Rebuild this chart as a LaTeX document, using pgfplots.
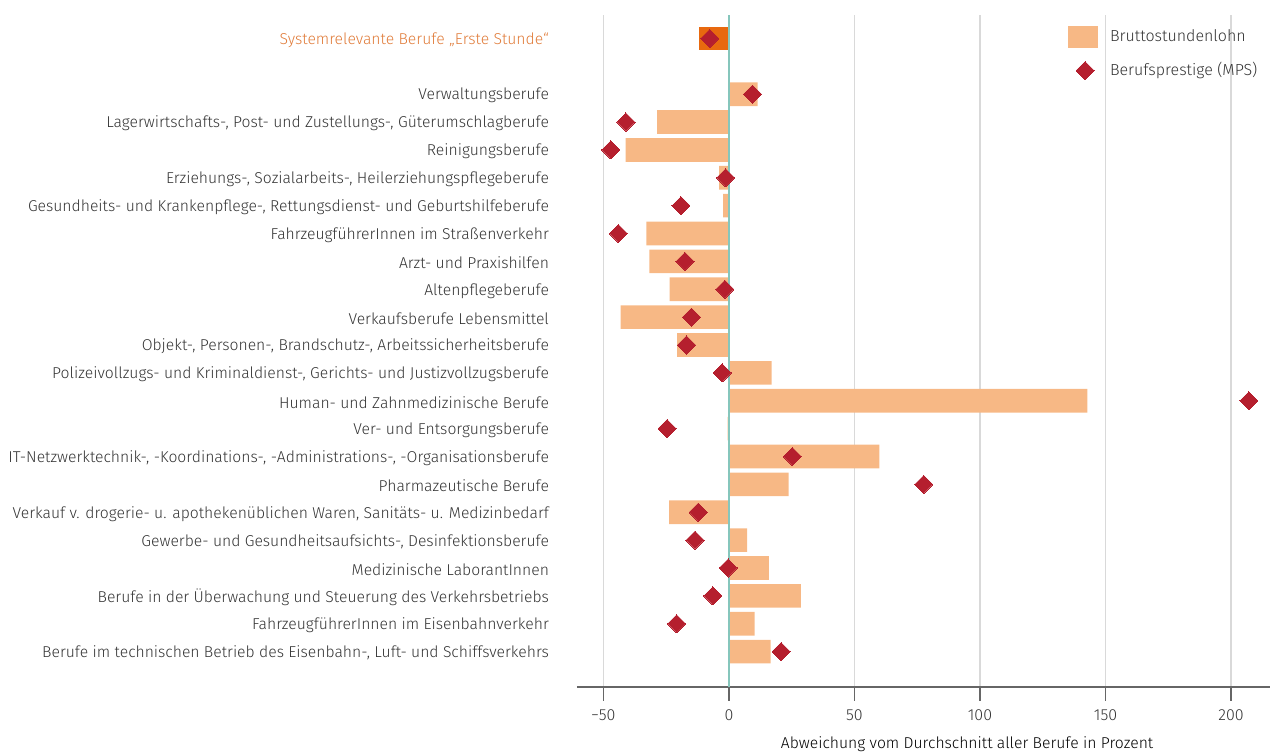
\documentclass[border=0pt]{standalone}
\usepackage{fontspec}
\setmainfont{Fira Sans Light}
\usepackage{pgfplots}
\pgfplotsset{compat=1.18}
\definecolor{barlight}{HTML}{F7B885}
\definecolor{bardark}{HTML}{E8690F}
\definecolor{dia}{HTML}{B51F2E}
\definecolor{zeroline}{HTML}{86C6BC}
\definecolor{gridc}{HTML}{D9D9D9}
\definecolor{txt}{HTML}{333333}
\definecolor{lblorange}{HTML}{E07B39}
\begin{document}
\begin{tikzpicture}
\useasboundingbox (-288.5pt,-32.65pt) rectangle (346.5pt,343.35pt);
\begin{axis}[
  at={(0,0)}, anchor=south west,
  scale only axis, width=346.5pt, height=335.85pt,
  xmin=-60.5, xmax=215.5,
  ymin=-2.84, ymax=21.26, y dir=reverse,
  axis x line*=bottom, axis y line*=left,
  y axis line style={draw=none},
  x axis line style={draw=black!60, line width=1pt},
  xtick={-50,0,50,100,150,200},
  xticklabels={−50,0,50,100,150,200},
  xtick style={draw=black!60, line width=0.6pt},
  tick align=outside, major tick length=7pt,
  xmajorgrids, grid style={gridc, line width=0.7pt},
  ytick={-2,0,1,2,3,4,5,6,7,8,9,10,11,12,13,14,15,16,17,18,19,20},
  ytick style={draw=none},
  yticklabels={
    \textcolor{lblorange}{Systemrelevante Berufe „Erste Stunde“},
    Verwaltungsberufe,
    {Lagerwirtschafts-, Post- und Zustellungs-, Güterumschlagberufe},
    Reinigungsberufe,
    {Erziehungs-, Sozialarbeits-, Heilerziehungspflegeberufe},
    {Gesundheits- und Krankenpflege-, Rettungsdienst- und Geburtshilfeberufe},
    FahrzeugführerInnen im Straßenverkehr,
    Arzt- und Praxishilfen,
    Altenpflegeberufe,
    Verkaufsberufe Lebensmittel,
    {Objekt-, Personen-, Brandschutz-, Arbeitssicherheitsberufe},
    {Polizeivollzugs- und Kriminaldienst-, Gerichts- und Justizvollzugsberufe},
    Human- und Zahnmedizinische Berufe,
    Ver- und Entsorgungsberufe,
    {IT-Netzwerktechnik-, -Koordinations-, -Administrations-, -Organisationsberufe},
    Pharmazeutische Berufe,
    {Verkauf v. drogerie- u. apothekenüblichen Waren, Sanitäts- u. Medizinbedarf},
    {Gewerbe- und Gesundheitsaufsichts-, Desinfektionsberufe},
    Medizinische LaborantInnen,
    Berufe in der Überwachung und Steuerung des Verkehrsbetriebs,
    FahrzeugführerInnen im Eisenbahnverkehr,
    {Berufe im technischen Betrieb des Eisenbahn-, Luft- und Schiffsverkehrs}
  },
  yticklabel style={font=\fontsize{7.85pt}{9pt}\selectfont, text=txt, anchor=east, xshift=-3.5pt, yshift=-0.8pt},
  xticklabel style={font=\fontsize{8pt}{9pt}\selectfont, text=txt, yshift=-1pt},
  xlabel={Abweichung vom Durchschnitt aller Berufe in Prozent},
  xlabel style={at={(axis description cs:0.563,0)}, anchor=center, yshift=-28.5pt, font=\fontsize{7.85pt}{9pt}\selectfont, text=black},
  legend style={at={(0.708,0.985)}, anchor=north west, draw=none, fill=none,
    font=\fontsize{8pt}{9pt}\selectfont, text=txt, row sep=5pt, column sep=4pt,
    inner sep=0pt},
  legend cell align=left,
  clip=false,
]
% highlighted bar
\addplot[xbar, bar width=0.85, bar shift=0pt, fill=bardark, draw=none, forget plot]
  coordinates {(-12.1,-2)};
% regular bars
\addplot[xbar, bar width=0.85, bar shift=0pt, fill=barlight, draw=none,
  legend image code/.code={\fill[barlight] (0pt,-5.5pt) rectangle (15pt,5.5pt);}]
  coordinates {
    (11.4,0) (-28.6,1) (-41.1,2) (-3.9,3) (-2.3,4) (-32.9,5) (-31.7,6)
    (-23.6,7) (-43.1,8) (-20.6,9) (17.0,10) (142.8,11) (-0.5,12) (59.9,13)
    (23.8,14) (-23.8,15) (7.3,16) (15.9,17) (28.7,18) (10.2,19) (16.6,20)
  };
\addlegendentry{Bruttostundenlohn}
% diamonds
\addplot[only marks, color=dia, mark=square*, mark size=3.2pt,
  mark options={rotate=45, fill=dia, draw=dia, line width=0pt}]
  coordinates {
    (-7.6,-2) (9.4,0) (-41.0,1) (-47.0,2) (-1.3,3) (-19.1,4) (-44.0,5) (-17.5,6)
    (-1.6,7) (-14.9,8) (-16.9,9) (-2.7,10) (207.1,11) (-24.6,12) (25.3,13)
    (77.6,14) (-12.2,15) (-13.5,16) (-0.3,17) (-6.4,18) (-20.8,19) (20.8,20)
  };
\addlegendentry{Berufsprestige (MPS)}
\draw[zeroline, line width=0.8pt] (axis cs:0,-2.84) -- (axis cs:0,21.26);
\end{axis}
\end{tikzpicture}
\end{document}
